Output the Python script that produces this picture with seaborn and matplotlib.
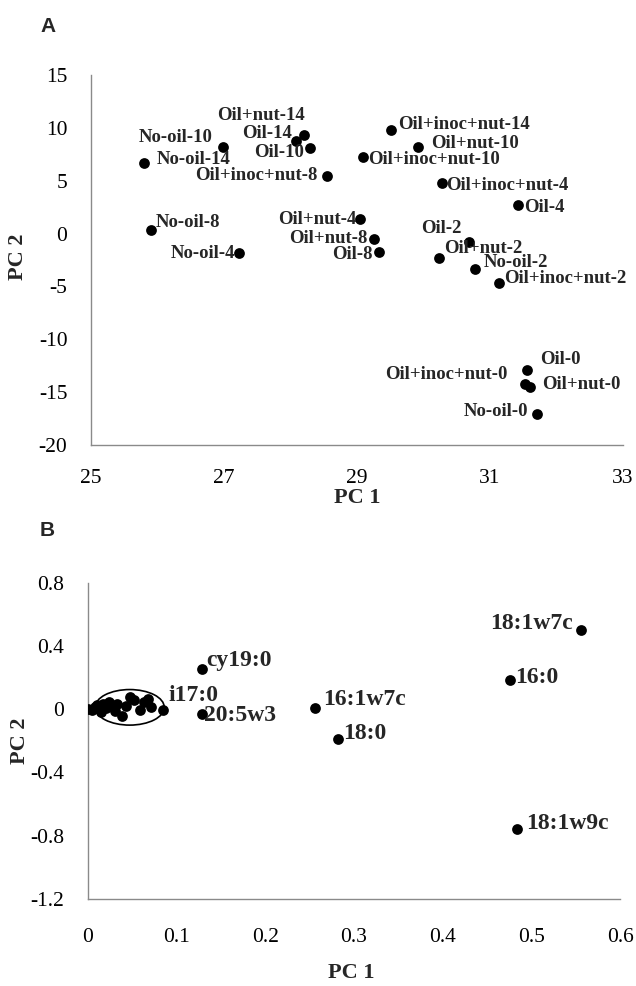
import matplotlib
matplotlib.use("Agg")
import matplotlib.pyplot as plt
import seaborn as sns
import pandas as pd
from matplotlib.patches import Ellipse

# ---- Panel A: PCA scores of samples ----
muestras = [
    "No-oil-0", "No-oil-2", "No-oil-4", "No-oil-8", "No-oil-10", "No-oil-14",
    "Oil-0", "Oil-2", "Oil-4", "Oil-8", "Oil-10", "Oil-14",
    "Oil+nut-0", "Oil+nut-2", "Oil+nut-4", "Oil+nut-8", "Oil+nut-10", "Oil+nut-14",
    "Oil+inoc+nut-0", "Oil+inoc+nut-2", "Oil+inoc+nut-4", "Oil+inoc+nut-8",
    "Oil+inoc+nut-10", "Oil+inoc+nut-14",
]
pc1_a = [31.71, 30.78, 27.22, 25.90, 26.98, 25.80,
         31.56, 30.69, 31.42, 29.33, 28.29, 28.08,
         31.60, 30.24, 29.04, 29.26, 29.92, 28.21,
         31.52, 31.13, 30.28, 28.55, 29.09, 29.51]
pc2_a = [-17.03, -3.32, -1.86, 0.32, 8.15, 6.64,
         -12.92, -0.79, 2.72, -1.70, 8.06, 8.79,
         -14.50, -2.33, 1.36, -0.53, 8.15, 9.36,
         -14.20, -4.64, 4.74, 5.47, 7.27, 9.80]

# ---- Panel B: PCA loadings of fatty acids ----
acidos = ["18:1w7c", "16:0", "cy19:0", "i17:0", "20:5w3", "16:1w7c", "18:0", "18:1w9c"]
pc1_b = [0.556, 0.476, 0.128, 0.085, 0.128, 0.256, 0.282, 0.484]
pc2_b = [0.503, 0.187, 0.256, -0.003, -0.033, 0.007, -0.187, -0.756]

# minor fatty acids grouped inside the ellipse
pc1_grupo = [0.000, 0.004, 0.008, 0.012, 0.010, 0.015, 0.017, 0.020, 0.024, 0.027,
             0.030, 0.033, 0.038, 0.043, 0.047, 0.052, 0.059, 0.063, 0.068, 0.071]
pc2_grupo = [0.000, -0.005, 0.013, 0.000, 0.025, -0.020, 0.030, 0.010, 0.045, 0.020,
             -0.010, 0.035, -0.046, 0.020, 0.077, 0.056, -0.008, 0.045, 0.066, 0.013]

# label placement (offset in pixels, alignment)
offs_a = [(-9, 2, "right"), (8, 6, "left"), (-3, 0, "right"), (5, 8, "left"),
          (-10, 10, "right"), (12, 4, "left"),
          (13, 11, "left"), (-8, 13, "right"), (6, -3, "left"), (-6, -3, "right"),
          (-6, -4, "right"), (-4, 7, "right"),
          (12, 2, "left"), (5, 10, "left"), (-3, 0, "right"), (-7, 1, "right"),
          (13, 4, "left"), (0, 19, "right"),
          (-17, 9, "right"), (5, 4, "left"), (4, -2, "left"), (-10, 0, "right"),
          (5, -3, "left"), (7, 5, "left")]
offs_b = [(-8, 6, "right"), (5, 2, "left"), (5, 8, "left"), (5, 14, "left"),
          (2, -1, "left"), (8, 9, "left"), (5, 5, "left"), (9, 5, "left")]

sns.set_style("white")
plt.rcParams["font.family"] = ["Liberation Serif", "DejaVu Serif"]
plt.rcParams["axes.unicode_minus"] = False

df_a = pd.DataFrame({"PC1": pc1_a, "PC2": pc2_a, "Muestra": muestras})
df_b = pd.DataFrame({"PC1": pc1_b, "PC2": pc2_b, "Acido": acidos})
df_g = pd.DataFrame({"PC1": pc1_grupo, "PC2": pc2_grupo})

fig = plt.figure(figsize=(6.36, 9.86), dpi=100)
ax_a = fig.add_axes([0.1431, 0.5487, 0.8365, 0.3753])
ax_b = fig.add_axes([0.1384, 0.0884, 0.8365, 0.3205])


def estilo(ax):
    for lado in ["top", "right"]:
        ax.spines[lado].set_visible(False)
    for lado in ["left", "bottom"]:
        ax.spines[lado].set_color("#8a8a8a")
        ax.spines[lado].set_linewidth(1.0)
    ax.tick_params(axis="both", direction="out", length=5, width=0.8,
                   color="#8a8a8a", labelsize=15.5, pad=12, labelcolor="black")
    ax.grid(False)


# Panel A
sns.scatterplot(data=df_a, x="PC1", y="PC2", ax=ax_a, color="black", s=60,
                edgecolor="black", linewidth=0, zorder=3)
for i, fila in df_a.iterrows():
    dx, dy, ha = offs_a[i]
    ax_a.annotate(fila["Muestra"], (fila["PC1"], fila["PC2"]), xytext=(dx, dy),
                  textcoords="offset pixels", ha=ha, va="center",
                  fontsize=13.5, fontweight="bold")
ax_a.set_xlim(25, 33)
ax_a.set_ylim(-20, 15)
ax_a.set_xticks([25, 27, 29, 31, 33])
ax_a.set_yticks([-20, -15, -10, -5, 0, 5, 10, 15])
estilo(ax_a)
ax_a.set_xlabel("PC 1", fontsize=16, fontweight="bold")
ax_a.set_ylabel("PC 2", fontsize=16, fontweight="bold")
ax_a.xaxis.set_label_coords(0.5, -0.116)
ax_a.yaxis.set_label_coords(-0.118, 0.51)

# Panel B
sns.scatterplot(data=df_g, x="PC1", y="PC2", ax=ax_b, color="black", s=60,
                edgecolor="black", linewidth=0, zorder=3)
sns.scatterplot(data=df_b, x="PC1", y="PC2", ax=ax_b, color="black", s=60,
                edgecolor="black", linewidth=0, zorder=3)
ax_b.add_patch(Ellipse((0.047, 0.012), 0.078, 0.225, fill=False,
                       edgecolor="black", linewidth=1.2, zorder=2))
for i, fila in df_b.iterrows():
    dx, dy, ha = offs_b[i]
    ax_b.annotate(fila["Acido"], (fila["PC1"], fila["PC2"]), xytext=(dx, dy),
                  textcoords="offset pixels", ha=ha, va="center",
                  fontsize=17, fontweight="bold")
ax_b.set_xlim(0, 0.6)
ax_b.set_ylim(-1.2, 0.8)
ax_b.set_xticks([0, 0.1, 0.2, 0.3, 0.4, 0.5, 0.6])
ax_b.set_xticklabels(["0", "0.1", "0.2", "0.3", "0.4", "0.5", "0.6"])
ax_b.set_yticks([-1.2, -0.8, -0.4, 0, 0.4, 0.8])
ax_b.set_yticklabels(["-1.2", "-0.8", "-0.4", "0", "0.4", "0.8"])
estilo(ax_b)
ax_b.tick_params(axis="x", pad=16)
ax_b.set_xlabel("PC 1", fontsize=16, fontweight="bold")
ax_b.set_ylabel("PC 2", fontsize=16, fontweight="bold")
ax_b.xaxis.set_label_coords(0.495, -0.203)
ax_b.yaxis.set_label_coords(-0.109, 0.5)

# panel letters
fig.text(48 / 636, 1 - 27 / 986, "A", fontsize=15, fontweight="bold",
         family=["Liberation Sans", "DejaVu Sans"], ha="center", va="center")
fig.text(47 / 636, 1 - 530 / 986, "B", fontsize=15, fontweight="bold",
         family=["Liberation Sans", "DejaVu Sans"], ha="center", va="center")

fig.savefig("out.png", dpi=100)
